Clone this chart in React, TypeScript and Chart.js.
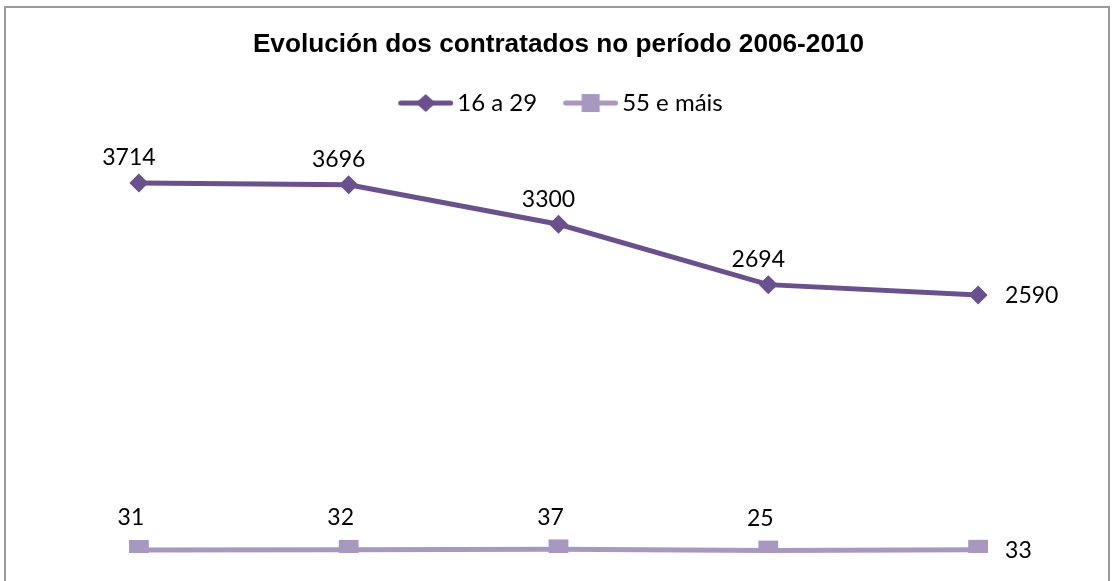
import React, { useEffect, useRef } from 'react';
import { Chart, registerables } from 'chart.js';

Chart.register(...registerables);

const years = ['2006', '2007', '2008', '2009', '2010'];
const youngValues = [3714, 3696, 3300, 2694, 2590];
const olderValues = [31, 32, 37, 25, 33];
const seriesNames = ['16 a 29', '55 e máis'];
const titleText = 'Evolución dos contratados no período 2006-2010';

const DARK = '#6B5090';
const LIGHT = '#A898C0';
const LABEL_FONT = 'Lato';

function legendIcon(color: string, kind: 'diamond' | 'square'): HTMLCanvasElement {
  const c = document.createElement('canvas');
  c.width = 67;
  c.height = 20;
  const ctx = c.getContext('2d')!;
  ctx.strokeStyle = color;
  ctx.lineWidth = 5;
  ctx.lineCap = 'round';
  ctx.beginPath();
  ctx.moveTo(12 + 2.5, 10);
  ctx.lineTo(67 - 2.5, 10);
  ctx.stroke();
  const cx = 12 + 27.5;
  ctx.fillStyle = color;
  if (kind === 'diamond') {
    ctx.beginPath();
    ctx.moveTo(cx, 1);
    ctx.lineTo(cx + 10, 10);
    ctx.lineTo(cx, 19);
    ctx.lineTo(cx - 10, 10);
    ctx.closePath();
    ctx.fill();
  } else {
    ctx.fillRect(cx - 9, 1, 18, 18);
  }
  return c;
}

const dataLabelPlugin = {
  id: 'dataLabels',
  afterDatasetsDraw(chart: any) {
    const ctx = chart.ctx;
    ctx.save();
    ctx.font = `23px ${LABEL_FONT}`;
    ctx.fillStyle = '#000';
    chart.data.datasets.forEach((ds: any, di: number) => {
      const meta = chart.getDatasetMeta(di);
      const above = di === 0 ? 25 : 32;
      const shift = di === 0 ? -10 : -8;
      meta.data.forEach((pt: any, i: number) => {
        const v = String(ds.data[i]);
        if (i === ds.data.length - 1) {
          ctx.textAlign = 'left';
          ctx.textBaseline = 'middle';
          ctx.fillText(v, pt.x + 27, pt.y + 1);
        } else {
          ctx.textAlign = 'center';
          ctx.textBaseline = 'middle';
          ctx.fillText(v, pt.x + shift, pt.y - above);
        }
      });
    });
    ctx.restore();
  },
};

export default function App() {
  const canvasRef = useRef<HTMLCanvasElement | null>(null);

  useEffect(() => {
    document.body.style.margin = '0';
    const icons = [legendIcon(DARK, 'diamond'), legendIcon(LIGHT, 'square')];
    const chart = new Chart(canvasRef.current!, {
      type: 'line',
      data: {
        labels: years,
        datasets: [
          {
            label: seriesNames[0],
            data: youngValues,
            borderColor: DARK,
            backgroundColor: DARK,
            borderWidth: 5,
            pointStyle: 'rectRot',
            pointRadius: 9.5,
            pointBorderWidth: 0,
            pointBackgroundColor: DARK,
            tension: 0,
          },
          {
            label: seriesNames[1],
            data: olderValues,
            borderColor: LIGHT,
            backgroundColor: LIGHT,
            borderWidth: 5,
            pointStyle: 'rect',
            pointRadius: 14,
            pointBorderWidth: 0,
            pointBackgroundColor: LIGHT,
            tension: 0,
          },
        ],
      },
      options: {
        responsive: false,
        animation: false,
        layout: { padding: { left: 34, right: 30, top: 10, bottom: 28 } },
        scales: {
          x: { type: 'category', offset: true, display: false },
          y: { min: 0, max: 4296, display: false },
        },
        plugins: {
          title: {
            display: true,
            text: titleText,
            color: '#000',
            font: { family: 'Liberation Sans', size: 26.2, weight: 'bold' },
            padding: { top: 19, bottom: 8.6 },
          },
          legend: {
            display: true,
            labels: {
              color: '#000',
              font: { family: LABEL_FONT, size: 24 },
              usePointStyle: true,
              pointStyleWidth: 51,
              padding: 22,
              generateLabels: (ch: any) => {
                const base = Chart.defaults.plugins.legend.labels.generateLabels(ch);
                return base.map((l: any, i: number) => ({ ...l, pointStyle: icons[i], fontColor: '#000' }));
              },
            },
          },
          tooltip: { enabled: false },
        },
      },
      plugins: [dataLabelPlugin],
    } as any);
    return () => chart.destroy();
  }, []);

  return (
    <div style={{ position: 'relative', width: 1113, height: 581, background: '#fff', overflow: 'hidden' }}>
      <canvas ref={canvasRef} width={1113} height={581} style={{ display: 'block' }} />
      <div
        style={{
          position: 'absolute',
          left: 4,
          top: 6,
          width: 1106,
          height: 640,
          boxSizing: 'border-box',
          border: '2px solid #9a9a9a',
          pointerEvents: 'none',
        }}
      />
    </div>
  );
}
